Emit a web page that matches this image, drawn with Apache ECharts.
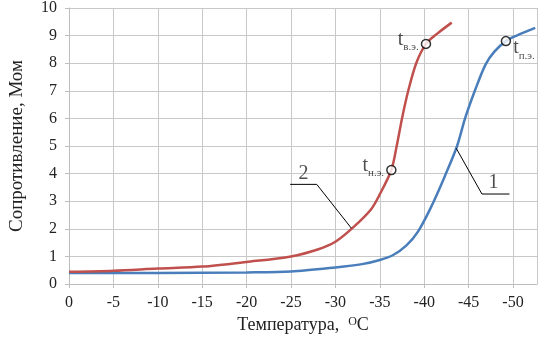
<!DOCTYPE html>
<html>
<head>
<meta charset="utf-8">
<script src="https://cdn.jsdelivr.net/npm/echarts@6/dist/echarts.min.js"></script>
<style>
	html, body { margin: 0; padding: 0; background: #fff; }
	#chart { width: 549px; height: 342px; }
</style>
</head>
<body>
<div id="chart"></div>
<script>
// Curve 2 (red): temperature, °C and resistance, MOhm
const temps2 = [ 0, -5, -10, -15, -20, -25, -28, -30, -32, -34, -35, -36.3, -36.9, -37.5, -38.2, -39.1, -40.2, -41.5, -43.1 ];
const values2 = [ 0.44, 0.48, 0.56, 0.63, 0.8, 1.0, 1.25, 1.53, 2.05, 2.7, 3.25, 4.13, 5.0, 6.0, 7.0, 8.0, 8.7, 9.08, 9.47 ];

// Curve 1 (blue)
const temps1 = [ 0, -10, -20, -25, -30, -33, -35, -36.5, -38, -39.3, -40.7, -42.3, -43.7, -44.6, -45.7, -46.9, -47.9, -49.2, -50.4, -52.5 ];
const values1 = [ 0.4, 0.4, 0.42, 0.45, 0.6, 0.72, 0.87, 1.05, 1.4, 1.9, 2.74, 3.89, 5.0, 6.0, 7.0, 7.95, 8.42, 8.8, 9.0, 9.28 ];

// Marked points
const markerTemps = [ -36.3, -40.2, -49.2 ];
const markerValues = [ 4.13, 8.7, 8.8 ];
const markerSubs = [ 'н.э.', 'в.э.', 'п.э.' ];

// Leader lines for curve numbers
const leader2Temps = [ -24.9, -27.9, -31.8 ];
const leader2Values = [ 3.61, 3.61, 2.02 ];
const leader1Temps = [ -43.6, -46.5, -49.6 ];
const leader1Values = [ 4.92, 3.26, 3.26 ];

const xTicks = [ 0, -5, -10, -15, -20, -25, -30, -35, -40, -45, -50 ];

const serif = 'Liberation Serif';
const toPoints = ( ts, vs ) => ts.map( ( t, i ) => [ -t, vs[ i ] ] );

const chart = echarts.init( document.getElementById( 'chart' ), null, { renderer: 'canvas' } );

chart.setOption( {
	animation: false,
	textStyle: { fontFamily: serif },
	grid: { left: 63, right: 12, top: 8, bottom: 58 },
	xAxis: {
		type: 'value',
		min: 0,
		max: 52.7,
		interval: 5,
		name: '{a|Температура,  }{s|O}{a|C}',
		nameLocation: 'middle',
		nameGap: 32,
		nameTextStyle: {
			rich: {
				a: { fontFamily: serif, fontSize: 18, color: '#222', verticalAlign: 'bottom' },
				s: { fontFamily: serif, fontSize: 12, color: '#222', padding: [ 0, 0, 6, 0 ], verticalAlign: 'bottom' }
			}
		},
		axisLine: { show: true, lineStyle: { color: '#bdbdbd' } },
		axisTick: { show: true, length: 4, lineStyle: { color: '#bdbdbd' } },
		axisLabel: {
			fontFamily: serif,
			fontSize: 16,
			color: '#222',
			margin: 11,
			showMaxLabel: false,
			formatter: ( v ) => ( xTicks.indexOf( -v ) >= 0 ? String( -v === 0 ? 0 : -v ) : '' )
		},
		splitLine: { show: true, lineStyle: { color: '#c8c8c8' } }
	},
	yAxis: {
		type: 'value',
		min: 0,
		max: 10,
		interval: 1,
		name: 'Сопротивление, Мом',
		nameLocation: 'middle',
		nameGap: 42,
		nameTextStyle: { fontFamily: serif, fontSize: 19, color: '#222' },
		axisLine: { show: true, lineStyle: { color: '#bdbdbd' } },
		axisTick: { show: true, length: 4, lineStyle: { color: '#bdbdbd' } },
		axisLabel: { fontFamily: serif, fontSize: 16, color: '#222', margin: 12 },
		splitLine: { show: true, lineStyle: { color: '#c8c8c8' } }
	},
	series: [
		{
			type: 'line',
			data: toPoints( temps1, values1 ),
			smooth: 0.3,
			showSymbol: false,
			lineStyle: { color: '#4a7ebb', width: 2.5 },
			z: 3
		},
		{
			type: 'line',
			data: toPoints( temps2, values2 ),
			smooth: 0.3,
			showSymbol: false,
			lineStyle: { color: '#c0504d', width: 2.5 },
			z: 4
		},
		{
			type: 'line',
			data: toPoints( leader2Temps, leader2Values ),
			showSymbol: false,
			lineStyle: { color: '#000', width: 1 },
			z: 5
		},
		{
			type: 'line',
			data: toPoints( leader1Temps, leader1Values ),
			showSymbol: false,
			lineStyle: { color: '#000', width: 1 },
			z: 5
		},
		{
			// curve numbers
			type: 'scatter',
			symbolSize: 0,
			data: [
				{ value: [ 26.4, 3.61 ], label: { formatter: '2' } },
				{ value: [ 47.8, 3.26 ], label: { formatter: '1' } }
			],
			label: {
				show: true,
				position: 'top',
				distance: 1,
				fontFamily: serif,
				fontSize: 20,
				color: '#222'
			},
			z: 6
		},
		{
			type: 'scatter',
			data: toPoints( markerTemps, markerValues ).map( ( p, i ) => ( {
				value: p,
				label: {
					position: i === 2 ? 'right' : 'left',
					offset: i === 2 ? [ 0, 7 ] : [ 0, -4 ],
					formatter: '{t|t}{s|' + markerSubs[ i ] + '}'
				}
			} ) ),
			symbol: 'circle',
			symbolSize: 9,
			itemStyle: { color: '#fff', borderColor: '#000', borderWidth: 1.5 },
			label: {
				show: true,
				distance: 2,
				rich: {
					t: { fontFamily: serif, fontSize: 20, color: '#222', verticalAlign: 'bottom' },
					s: { fontFamily: serif, fontSize: 11, color: '#222', verticalAlign: 'bottom', padding: [ 0, 0, -3, 0 ] }
				}
			},
			z: 7
		}
	]
} );
</script>
</body>
</html>
